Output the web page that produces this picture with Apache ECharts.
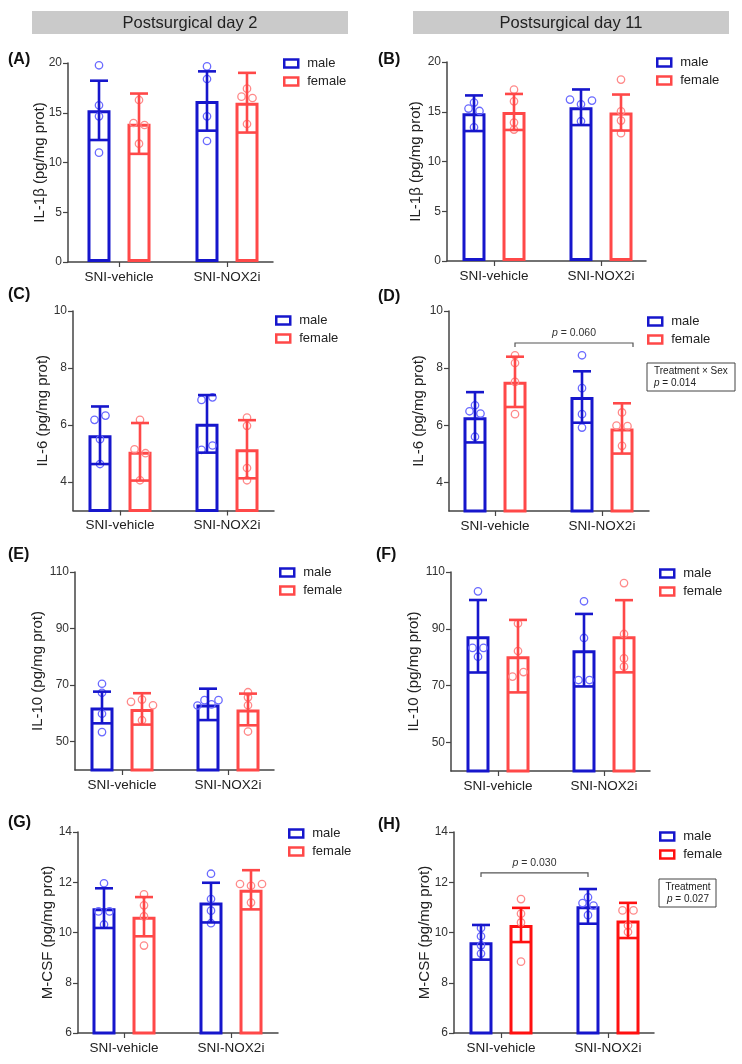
<!DOCTYPE html>
<html>
<head>
<meta charset="utf-8">
<script src="https://cdn.jsdelivr.net/npm/echarts@6/dist/echarts.min.js"></script>
<style>
html, body { margin: 0; padding: 0; background: #fff; }
#chart { width: 742px; height: 1064px; }
</style>
</head>
<body>
<div id="chart"></div>
<script>
const groups = ['SNI-vehicle', 'SNI-NOX2i']
const groupPos = [0, 1]

// (A) IL-1β, day 2
const aMaleMean = [15.24, 16.18]
const aMaleSd = [2.98, 2.98]
const aMalePts = [[19.77, 15.75, 14.64, 10.99], [19.66, 18.39, 14.64, 12.16]]
const aFemaleMean = [13.9, 16.01]
const aFemaleSd = [3.03, 3.0]
const aFemalePts = [[16.28, 13.97, 13.77, 11.89], [17.42, 16.62, 16.48, 13.87]]

// (B) IL-1β, day 11
const bMaleMean = [14.85, 15.45]
const bMaleSd = [1.79, 1.79]
const bMalePts = [[15.92, 15.32, 15.08, 13.44], [16.22, 15.75, 16.12, 14.05]]
const bFemaleMean = [14.98, 14.92]
const bFemaleSd = [1.81, 1.81]
const bFemalePts = [[17.22, 16.05, 13.91, 13.21], [18.23, 15.05, 14.11, 12.84]]

// (C) IL-6, day 2
const cMaleMean = [5.64, 6.04]
const cMaleSd = [1.01, 1.01]
const cMalePts = [[6.18, 6.33, 5.5, 4.63], [6.88, 6.97, 5.13, 5.28]]
const cFemaleMean = [5.06, 5.15]
const cFemaleSd = [1.01, 1.02]
const cFemalePts = [[6.18, 5.15, 5.01, 4.06], [6.26, 5.97, 4.49, 4.06]]

// (D) IL-6, day 11
const dMaleMean = [6.28, 6.99]
const dMaleSd = [0.88, 0.9]
const dMalePts = [[6.49, 6.7, 6.41, 5.6], [8.45, 7.3, 6.39, 5.92]]
const dFemaleMean = [7.52, 5.89]
const dFemaleSd = [0.88, 0.88]
const dFemalePts = [[8.45, 8.18, 7.52, 6.39], [6.45, 5.99, 5.97, 5.28]]

// (E) IL-10, day 2
const eMaleMean = [62.1, 63.2]
const eMaleSd = [5.6, 5.55]
const eMalePts = [[70.5, 67.3, 59.9, 53.4], [62.8, 64.7, 63.2, 64.7]]
const eFemaleMean = [61.6, 61.4]
const eFemaleSd = [5.55, 5.6]
const eFemalePts = [[64.1, 64.9, 62.9, 57.6], [67.5, 65.7, 62.9, 53.6]]

// (F) IL-10, day 11
const fMaleMean = [87.4, 82.5]
const fMaleSd = [12.75, 12.75]
const fMalePts = [[103.2, 83.3, 83.3, 80.2], [99.7, 86.8, 72.0, 72.0]]
const fFemaleMean = [80.4, 87.4]
const fFemaleSd = [12.75, 12.7]
const fFemalePts = [[91.9, 82.2, 73.2, 74.8], [106.1, 88.2, 79.6, 76.7]]

// (G) M-CSF, day 2
const gMaleMean = [10.97, 11.19]
const gMaleSd = [0.79, 0.79]
const gMalePts = [[11.96, 10.84, 10.84, 10.32], [12.34, 11.33, 10.87, 10.37]]
const gFemaleMean = [10.63, 11.7]
const gFemaleSd = [0.78, 0.78]
const gFemalePts = [[11.52, 11.08, 10.64, 9.48], [11.93, 11.86, 11.93, 11.19]]

// (H) M-CSF, day 11
const hMaleMean = [9.61, 11.04]
const hMaleSd = [0.69, 0.69]
const hMalePts = [[10.18, 9.85, 9.49, 9.16], [11.17, 11.4, 11.07, 10.69]]
const hFemaleMean = [10.3, 10.48]
const hFemaleSd = [0.68, 0.7]
const hFemalePts = [[11.33, 10.75, 10.4, 8.84], [10.88, 10.88, 10.28, 10.02]]

const il1bTicks = [0, 5, 10, 15, 20]
const il6Ticks = [4, 6, 8, 10]
const il10Ticks = [50, 70, 90, 110]
const mcsfTicks = [6, 8, 10, 12, 14]

const FONT = '"Liberation Sans", Arial, sans-serif'
const BLUE = '#1616cc'
const BLUE_DOT = '#6a6aff'
const RED = '#ff4848'
const RED_DOT = '#ff8a8a'
const RED_H = '#ff1010'
const AXIS = '#444'
const OFF = 20 // bar centre offset from group centre, px

// x: [axis left, group 1 centre, group 2 centre, axis right] in px; y: [top, bottom]
const panels = [
  { label: '(A)', lab: [8, 60], name: 'IL-1β (pg/mg prot)', x: [68, 119, 227, 273], y: [63, 262], nameGap: 21,
    scale: { min: 0, max: 20, ticks: il1bTicks }, legend: [283, 57], red: RED,
    male: [aMaleMean, aMaleSd, aMalePts], female: [aFemaleMean, aFemaleSd, aFemalePts] },
  { label: '(B)', lab: [378, 60], name: 'IL-1β (pg/mg prot)', x: [447, 494, 601, 646], y: [62, 261], nameGap: 24,
    scale: { min: 0, max: 20, ticks: il1bTicks }, legend: [656, 56], red: RED,
    male: [bMaleMean, bMaleSd, bMalePts], female: [bFemaleMean, bFemaleSd, bFemalePts] },
  { label: '(C)', lab: [8, 295], name: 'IL-6 (pg/mg prot)', x: [73, 120, 227, 274], y: [311, 510.5], nameGap: 23,
    scale: { min: 3, max: 10, ticks: il6Ticks }, legend: [275, 314], red: RED,
    male: [cMaleMean, cMaleSd, cMalePts], female: [cFemaleMean, cFemaleSd, cFemalePts] },
  { label: '(D)', lab: [378, 297], name: 'IL-6 (pg/mg prot)', x: [449, 495, 602, 649], y: [311, 511], nameGap: 23,
    scale: { min: 3, max: 10, ticks: il6Ticks }, legend: [647, 315], red: RED,
    male: [dMaleMean, dMaleSd, dMalePts], female: [dFemaleMean, dFemaleSd, dFemalePts] },
  { label: '(E)', lab: [8, 555], name: 'IL-10 (pg/mg prot)', x: [75, 122, 228, 274], y: [572, 770], nameGap: 30,
    scale: { min: 40, max: 110, ticks: il10Ticks }, legend: [279, 566], red: RED,
    male: [eMaleMean, eMaleSd, eMalePts], female: [eFemaleMean, eFemaleSd, eFemalePts] },
  { label: '(F)', lab: [376, 555], name: 'IL-10 (pg/mg prot)', x: [451, 498, 604, 650], y: [572, 771], nameGap: 30,
    scale: { min: 40, max: 110, ticks: il10Ticks }, legend: [659, 567], red: RED,
    male: [fMaleMean, fMaleSd, fMalePts], female: [fFemaleMean, fFemaleSd, fFemalePts] },
  { label: '(G)', lab: [8, 823], name: 'M-CSF (pg/mg prot)', x: [78, 124, 231, 278], y: [832, 1033], nameGap: 23,
    scale: { min: 6, max: 14, ticks: mcsfTicks }, legend: [288, 827], red: RED,
    male: [gMaleMean, gMaleSd, gMalePts], female: [gFemaleMean, gFemaleSd, gFemalePts] },
  { label: '(H)', lab: [378, 825], name: 'M-CSF (pg/mg prot)', x: [454, 501, 608, 654], y: [832, 1033], nameGap: 22,
    scale: { min: 6, max: 14, ticks: mcsfTicks }, legend: [659, 830], red: RED_H,
    male: [hMaleMean, hMaleSd, hMalePts], female: [hFemaleMean, hFemaleSd, hFemalePts] }
]

// spread points that sit at about the same height side by side
function layoutDots(ys) {
  const idx = ys.map((y, i) => i).sort((a, b) => ys[a] - ys[b])
  const clusters = []
  let cur = [idx[0]]
  for (let i = 1; i < idx.length; i++) {
    if (ys[idx[i]] - ys[idx[i - 1]] < 4.8) cur.push(idx[i])
    else { clusters.push(cur); cur = [idx[i]] }
  }
  clusters.push(cur)
  const dx = new Array(ys.length).fill(0)
  clusters.forEach((c) => {
    c.sort((a, b) => a - b)
    const step = c.length > 3 ? 7 : 11
    c.forEach((k, j) => { dx[k] = (j - (c.length - 1) / 2) * step })
  })
  return dx
}

function makeErrDots(gi, sex, stats, off, lineColor, dotColor) {
  const [mean, sd, pts] = stats
  return {
    type: 'custom',
    name: sex,
    xAxisIndex: gi,
    yAxisIndex: gi,
    z: 3,
    silent: true,
    data: groupPos.map((g, k) => [g, mean[k], sd[k]]),
    renderItem(params, api) {
      const g = api.value(0)
      const m = api.value(1)
      const s = api.value(2)
      const x = api.coord([g, m])[0] + off
      const yTop = api.coord([g, m + s])[1]
      const yBot = api.coord([g, m - s])[1]
      const lineStyle = { stroke: lineColor, lineWidth: 2.6 }
      const children = []
      const ys = pts[params.dataIndex].map((v) => api.coord([g, v])[1])
      const dx = layoutDots(ys)
      ys.forEach((y, i) => {
        children.push({ type: 'circle', shape: { cx: x + dx[i], cy: y, r: 3.7 },
          style: { fill: 'none', stroke: dotColor, lineWidth: 1.3 } })
      })
      children.push({ type: 'line', shape: { x1: x, y1: yTop, x2: x, y2: yBot }, style: lineStyle })
      children.push({ type: 'line', shape: { x1: x - 9, y1: yTop, x2: x + 9, y2: yTop }, style: lineStyle })
      children.push({ type: 'line', shape: { x1: x - 9, y1: yBot, x2: x + 9, y2: yBot }, style: lineStyle })
      return { type: 'group', children }
    }
  }
}

const series = []
panels.forEach((p, i) => {
  const colors = { male: BLUE, female: p.red }
  ;['male', 'female'].forEach((sex) => {
    series.push({
      type: 'bar',
      name: sex,
      xAxisIndex: i,
      yAxisIndex: i,
      data: groupPos.map((g, k) => [g, p[sex][0][k]]),
      barWidth: 23,
      barGap: '74%',
      silent: true,
      z: 2,
      itemStyle: { color: '#fff', borderColor: colors[sex], borderWidth: 3 }
    })
  })
  series.push(makeErrDots(i, 'male', p.male, -OFF, BLUE, BLUE_DOT))
  series.push(makeErrDots(i, 'female', p.female, OFF, p.red, RED_DOT))
})

const option = {
  animation: false,
  backgroundColor: '#fff',
  textStyle: { fontFamily: FONT },
  grid: panels.map((p) => ({ left: p.x[0], top: p.y[0], width: p.x[3] - p.x[0], height: p.y[1] - p.y[0] })),
  xAxis: panels.map((p, i) => {
    const span = p.x[2] - p.x[1]
    return {
      type: 'value',
      gridIndex: i,
      min: -(p.x[1] - p.x[0]) / span,
      max: 1 + (p.x[3] - p.x[2]) / span,
      splitLine: { show: false },
      axisLine: { onZero: false, lineStyle: { color: AXIS, width: 1.5 } },
      axisTick: { length: 5, customValues: groupPos, lineStyle: { color: AXIS, width: 1.2 } },
      axisLabel: { fontSize: 13.5, color: '#222', margin: 8, fontFamily: FONT,
        customValues: groupPos, formatter: (v) => groups[Math.round(v)] }
    }
  }),
  yAxis: panels.map((p, i) => ({
    type: 'value',
    gridIndex: i,
    min: p.scale.min,
    max: p.scale.max,
    name: p.name,
    nameLocation: 'middle',
    nameGap: p.nameGap,
    nameMoveOverlap: false,
    nameTextStyle: { fontSize: 15, color: '#222', fontFamily: FONT },
    splitLine: { show: false },
    axisLine: { show: true, onZero: false, lineStyle: { color: AXIS, width: 1.5 } },
    axisTick: { show: true, length: 5, customValues: p.scale.ticks, lineStyle: { color: AXIS, width: 1.2 } },
    axisLabel: { fontSize: 12, color: '#333', margin: 6, customValues: p.scale.ticks, fontFamily: FONT }
  })),
  legend: panels.map((p) => ({
    orient: 'vertical',
    left: p.legend[0],
    top: p.legend[1],
    padding: 0,
    itemWidth: 14,
    itemHeight: 8,
    itemGap: 5,
    icon: 'rect',
    selectedMode: false,
    textStyle: { fontSize: 13, color: '#222', fontFamily: FONT, padding: [0, 0, 0, 4] },
    data: [
      { name: 'male', itemStyle: { color: '#fff', borderColor: BLUE, borderWidth: 2.5 } },
      { name: 'female', itemStyle: { color: '#fff', borderColor: p.red, borderWidth: 2.5 } }
    ]
  })),
  series
}

const chart = echarts.init(document.getElementById('chart'), null, { renderer: 'canvas' })
chart.setOption(option)

// annotations placed from the axes' own scales
function px(gi, g, v) {
  return chart.convertToPixel({ gridIndex: gi }, [g, v])
}

function bracket(gi, v, dx1, dx2, text) {
  const a = px(gi, groupPos[0], v)
  const b = px(gi, groupPos[1], v)
  const x1 = a[0] + dx1
  const x2 = b[0] + dx2
  const y = a[1]
  return [
    { type: 'polyline', shape: { points: [[x1, y + 4], [x1, y], [x2, y], [x2, y + 4]] },
      style: { stroke: '#555', lineWidth: 1.2, fill: 'none' } },
    { type: 'text', x: (x1 + x2) / 2, y: y - 10,
      style: { text: '{i|p} = ' + text, textAlign: 'center', textVerticalAlign: 'middle',
        font: '10.5px ' + FONT, fill: '#333', rich: { i: { fontStyle: 'italic', fontSize: 10.5, fontFamily: FONT } } } }
  ]
}

const graphic = [
  { type: 'rect', shape: { x: 32, y: 11, width: 316, height: 23 }, style: { fill: '#cacaca' } },
  { type: 'text', x: 190, y: 23, style: { text: 'Postsurgical day 2', textAlign: 'center', textVerticalAlign: 'middle', font: '16.5px ' + FONT, fill: '#222' } },
  { type: 'rect', shape: { x: 413, y: 11, width: 316, height: 23 }, style: { fill: '#cacaca' } },
  { type: 'text', x: 571, y: 23, style: { text: 'Postsurgical day 11', textAlign: 'center', textVerticalAlign: 'middle', font: '16.5px ' + FONT, fill: '#222' } },
  { type: 'rect', shape: { x: 647, y: 363, width: 88, height: 28 }, style: { fill: '#fff', stroke: '#444', lineWidth: 1 } },
  { type: 'text', x: 654, y: 377, style: { text: 'Treatment × Sex\n{i|p} = 0.014', textVerticalAlign: 'middle', lineHeight: 11.5,
      font: '10px ' + FONT, fill: '#222', rich: { i: { fontStyle: 'italic', fontSize: 10, fontFamily: FONT, lineHeight: 11.5 } } } },
  { type: 'rect', shape: { x: 659, y: 879, width: 57, height: 28 }, style: { fill: '#fff', stroke: '#444', lineWidth: 1 } },
  { type: 'text', x: 688, y: 893, style: { text: 'Treatment\n{i|p} = 0.027', textAlign: 'center', textVerticalAlign: 'middle', lineHeight: 11.5,
      font: '10px ' + FONT, fill: '#222', rich: { i: { fontStyle: 'italic', fontSize: 10, fontFamily: FONT, lineHeight: 11.5 } } } }
]
panels.forEach((p) => {
  graphic.push({ type: 'text', x: p.lab[0], y: p.lab[1],
    style: { text: p.label, textVerticalAlign: 'middle', font: 'bold 16px ' + FONT, fill: '#111' } })
})

// (D) female vehicle vs female NOX2i; (H) male vehicle vs male NOX2i
const dBr = bracket(3, 8.88, OFF, OFF + 11, '0.060')
const hBr = bracket(7, 12.37, -OFF, -OFF, '0.030')

chart.setOption({ graphic: graphic.concat(dBr, hBr) })
</script>
</body>
</html>
